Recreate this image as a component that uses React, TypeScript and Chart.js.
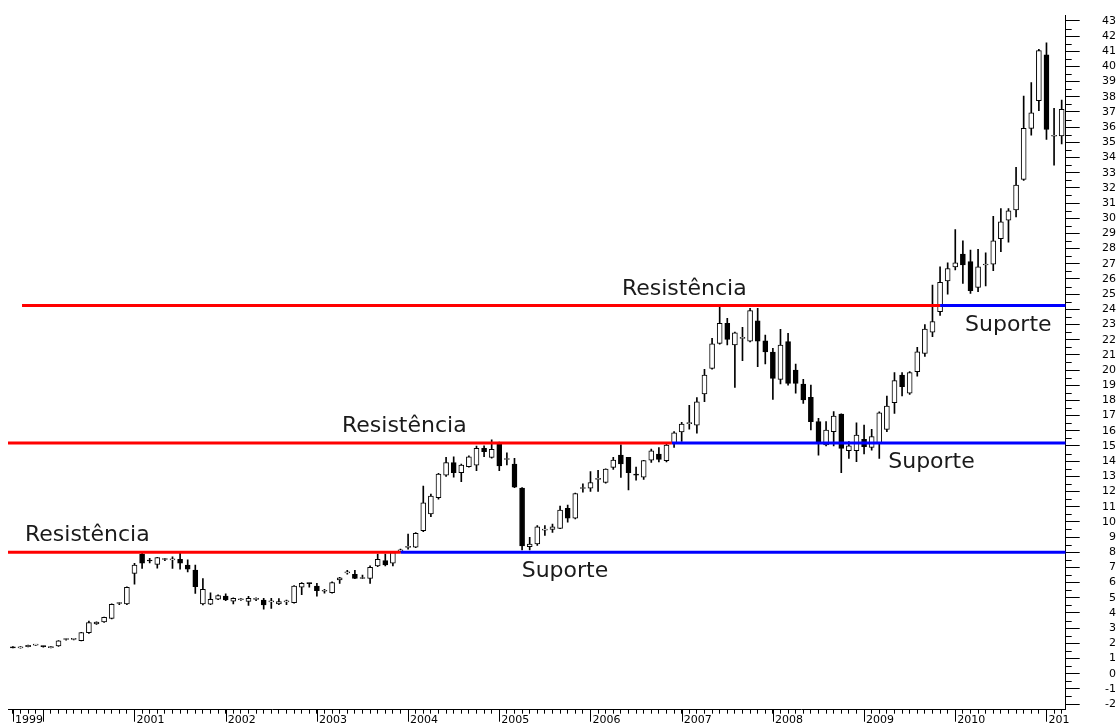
import React, { useEffect, useRef } from "react";
import { Chart, registerables } from "chart.js";

Chart.register(...registerables);

// Monthly candles, index 0 = Sep 1999 ... index 138 = Mar 2011
const opens = [
  1.75, 1.7, 1.78, 1.88, 1.79, 1.71, 1.82, 2.25, 2.26, 2.17, 2.7, 3.27, 3.4, 3.64, 4.62, 4.59,
  6.61, 7.86, 7.44, 7.2, 7.52, 7.5, 7.53, 7.16, 6.83, 4.59, 4.58, 4.9, 5.11, 4.78, 4.87, 4.76,
  4.89, 4.85, 4.73, 4.6, 4.73, 4.67, 5.69, 5.95, 5.77, 5.43, 5.33, 6.17, 6.64, 6.54, 6.27, 6.27,
  7.09, 7.45, 7.27, 8.09, 8.32, 8.33, 9.42, 10.52, 11.6, 13.08, 13.9, 13.24, 13.64, 13.74, 14.84, 14.25,
  15.21, 14.11, 13.81, 12.22, 8.36, 8.54, 9.45, 9.5, 9.57, 10.89, 10.24, 12.2, 12.22, 12.8, 12.59, 13.59,
  14.4, 14.25, 13.09, 12.94, 14.07, 14.47, 14.03, 15.17, 15.93, 16.47, 16.37, 18.42, 20.11, 21.76, 23.08, 21.65,
  22.09, 21.91, 23.25, 21.93, 21.19, 19.39, 21.87, 20.0, 19.08, 18.2, 16.6, 15.06, 15.94, 17.1, 14.69, 14.69,
  15.44, 14.91, 15.22, 16.09, 17.85, 19.67, 18.47, 19.9, 21.1, 22.5, 23.84, 25.88, 26.8, 27.64, 27.14, 25.45,
  26.92, 26.97, 28.66, 29.87, 30.55, 32.56, 35.92, 37.75, 40.76, 35.4, 35.42,
];
const highs = [
  1.78, 1.78, 1.88, 1.91, 1.81, 1.8, 2.18, 2.3, 2.3, 2.72, 3.47, 3.42, 3.72, 4.6, 4.68, 5.72,
  7.27, 7.92, 7.6, 7.66, 7.6, 7.7, 7.92, 7.5, 7.16, 6.27, 5.33, 5.2, 5.25, 5.0, 4.95, 5.1,
  5.0, 4.96, 4.96, 4.95, 4.85, 5.8, 6.0, 5.97, 5.95, 5.55, 6.05, 6.35, 6.8, 6.8, 6.5, 7.1,
  7.88, 7.88, 8.0, 8.2, 9.2, 9.3, 12.36, 11.83, 13.2, 14.25, 14.29, 13.8, 14.35, 14.99, 15.0, 15.4,
  15.25, 14.55, 14.18, 12.25, 8.98, 9.75, 9.75, 9.85, 11.04, 11.1, 11.9, 12.5, 13.31, 13.4, 13.5, 14.25,
  15.07, 14.25, 13.6, 14.05, 14.8, 14.9, 15.1, 15.95, 16.55, 17.68, 18.18, 20.05, 22.09, 24.17, 23.41, 22.5,
  22.81, 24.07, 24.07, 22.31, 21.43, 22.68, 22.42, 20.4, 19.39, 19.01, 16.82, 16.6, 17.26, 17.12, 15.28, 16.53,
  16.38, 16.09, 17.25, 18.29, 19.83, 19.83, 19.9, 21.5, 23.0, 25.6, 26.8, 27.07, 29.26, 28.51, 27.9, 27.95,
  27.73, 30.13, 30.64, 30.64, 33.36, 38.05, 38.93, 41.13, 41.56, 37.24, 37.79,
];
const lows = [
  1.69, 1.68, 1.76, 1.86, 1.74, 1.7, 1.8, 2.2, 2.22, 2.15, 2.65, 3.25, 3.38, 3.6, 4.55, 4.55,
  5.9, 6.93, 7.3, 6.95, 7.45, 6.93, 6.88, 6.7, 5.29, 4.52, 4.55, 4.88, 4.8, 4.6, 4.82, 4.5,
  4.8, 4.24, 4.3, 4.55, 4.55, 4.65, 5.2, 5.7, 5.1, 5.3, 5.3, 5.95, 6.55, 6.25, 6.25, 5.95,
  7.05, 7.1, 7.1, 8.0, 8.2, 8.3, 9.35, 10.34, 11.5, 13.0, 12.94, 12.65, 13.6, 13.37, 14.3, 14.2,
  13.37, 13.75, 12.25, 8.15, 8.15, 8.45, 9.1, 9.3, 9.55, 9.98, 10.2, 11.95, 12.0, 12.0, 12.55, 13.45,
  12.92, 12.11, 12.75, 12.8, 13.92, 13.95, 13.95, 14.9, 15.3, 16.1, 15.85, 17.92, 20.05, 21.7, 21.65, 18.86,
  20.62, 21.85, 20.22, 20.4, 18.07, 19.08, 19.0, 18.47, 17.81, 16.05, 14.4, 15.0, 15.0, 13.24, 14.18, 13.96,
  14.47, 14.73, 14.18, 15.94, 17.15, 18.29, 18.4, 19.6, 20.9, 22.2, 23.6, 25.0, 26.6, 25.7, 25.05, 25.16,
  25.54, 26.55, 27.8, 28.43, 30.09, 32.5, 35.48, 37.09, 35.2, 33.5, 34.89,
];
const closes = [
  1.7, 1.76, 1.86, 1.89, 1.78, 1.72, 2.17, 2.27, 2.27, 2.7, 3.36, 3.4, 3.71, 4.57, 4.64, 5.69,
  7.16, 7.27, 7.42, 7.64, 7.54, 7.52, 7.27, 6.88, 5.73, 5.55, 4.9, 5.15, 4.85, 4.96, 4.89, 4.96,
  4.91, 4.52, 4.75, 4.74, 4.75, 5.77, 5.95, 5.93, 5.46, 5.45, 6.0, 6.32, 6.66, 6.27, 6.29, 7.0,
  7.53, 7.16, 7.97, 8.11, 8.34, 9.24, 11.26, 11.7, 13.15, 13.9, 13.24, 13.74, 14.29, 14.84, 14.62, 14.77,
  13.68, 14.13, 12.28, 8.42, 8.54, 9.68, 9.47, 9.68, 10.78, 10.24, 11.87, 12.22, 12.59, 12.85, 13.47, 14.07,
  13.81, 13.24, 13.08, 14.03, 14.68, 14.12, 15.06, 15.87, 16.44, 16.5, 17.9, 19.67, 21.72, 23.08, 22.02, 22.46,
  22.12, 23.91, 21.91, 21.19, 19.45, 21.65, 19.12, 19.12, 18.03, 16.6, 15.28, 16.05, 16.97, 14.84, 15.0, 15.72,
  14.95, 15.61, 17.19, 17.63, 19.3, 18.9, 19.83, 21.2, 22.7, 23.2, 25.78, 26.69, 27.07, 26.92, 25.23, 26.8,
  26.94, 28.51, 29.76, 30.49, 32.19, 35.92, 36.95, 41.04, 35.86, 35.45, 37.18,
];

// Axis ticks
const yTickValues = [
  -2, -1, 0, 1, 2, 3, 4, 5, 6, 7, 8, 9, 10, 11, 12, 13, 14, 15, 16, 17, 18, 19, 20, 21, 22, 23,
  24, 25, 26, 27, 28, 29, 30, 31, 32, 33, 34, 35, 36, 37, 38, 39, 40, 41, 42, 43,
];
const yearTickIdx = [0, 4, 16, 28, 40, 52, 64, 76, 88, 100, 112, 124, 136];
const yearTickLabels = ["1999", "", "2001", "2002", "2003", "2004", "2005", "2006", "2007", "2008", "2009", "2010", "201"];

// Support / resistance levels (price) and where they start, switch colour, end (month index)
const levelValues = [8.0, 15.2, 24.25];
const levelStarts = [-0.645, -0.645, 1.2];
const levelBreaks = [51.0, 86.7, 122.0];
const levelEnd = 138.53;

// Annotation texts
const noteTexts = ["Resistência", "Resistência", "Resistência", "Suporte", "Suporte", "Suporte"];
const noteLevel = [0, 1, 2, 0, 1, 2];
const noteX = [1.59, 43.3, 80.14, 66.95, 115.18, 125.28];
const noteDy = [-11, -11, -11, 25, 25, 25];

const X_MIN = -0.645;
const Y_MIN = -2.375;
const Y_MAX = 43.39;

const decorPlugin = {
  id: "decor",
  afterDraw(chart: any) {
    const ctx = chart.ctx;
    const xs = chart.scales.x;
    const ys = chart.scales.y;
    const area = chart.chartArea;
    ctx.save();
    ctx.strokeStyle = "#000";
    ctx.lineWidth = 1;
    // minor half-unit ticks on the price axis
    for (let k = 0; k < yTickValues.length - 1; k++) {
      const v = (yTickValues[k] + yTickValues[k + 1]) / 2;
      const py = Math.round(ys.getPixelForValue(v)) + 0.5;
      ctx.beginPath();
      ctx.moveTo(area.right, py);
      ctx.lineTo(area.right + 6, py);
      ctx.stroke();
    }
    // long year ticks on the time axis
    yearTickIdx.forEach((i) => {
      const px = Math.round(xs.getPixelForValue(i)) + 0.5;
      ctx.beginPath();
      ctx.moveTo(px, area.bottom);
      ctx.lineTo(px, area.bottom + 12);
      ctx.stroke();
    });
    // annotations
    ctx.font = '22px "DejaVu Sans"';
    ctx.fillStyle = "#1a1a1a";
    ctx.textAlign = "left";
    ctx.textBaseline = "alphabetic";
    noteTexts.forEach((t, k) => {
      const px = xs.getPixelForValue(noteX[k]);
      const py = ys.getPixelForValue(levelValues[noteLevel[k]]) + noteDy[k];
      ctx.fillText(t, px, py);
    });
    ctx.restore();
  },
};

export default function App() {
  const ref = useRef<HTMLCanvasElement>(null);

  useEffect(() => {
    if (!ref.current) return;
    Chart.defaults.font.family = '"DejaVu Sans", sans-serif';

    const idx = opens.map((_, i) => i);
    const wickData = idx.map((i) => ({ x: i, y: [lows[i], highs[i]] }));
    const bodyData = idx.map((i) => ({ x: i, y: [opens[i], closes[i]] }));
    const bodyColors = idx.map((i) => (closes[i] >= opens[i] ? "#ffffff" : "#000000"));

    const levelSets: any[] = [];
    levelValues.forEach((lv, k) => {
      levelSets.push({
        type: "line",
        data: [
          { x: levelStarts[k], y: lv },
          { x: levelBreaks[k], y: lv },
        ],
        borderColor: "#ff0000",
        borderWidth: 3,
        pointRadius: 0,
        order: 0,
      });
      levelSets.push({
        type: "line",
        data: [
          { x: levelBreaks[k], y: lv },
          { x: levelEnd, y: lv },
        ],
        borderColor: "#0000ff",
        borderWidth: 3,
        pointRadius: 0,
        order: 0,
      });
    });

    const chart = new Chart(ref.current, {
      type: "bar",
      data: {
        datasets: [
          {
            type: "bar",
            data: wickData as any,
            backgroundColor: "#000000",
            borderWidth: 0,
            barThickness: 1,
            grouped: false,
            order: 2,
          },
          {
            type: "bar",
            data: bodyData as any,
            backgroundColor: bodyColors,
            borderColor: "#000000",
            borderWidth: 1,
            borderSkipped: false,
            barThickness: 5,
            minBarLength: 1,
            grouped: false,
            order: 1,
          },
          ...levelSets,
        ],
      },
      plugins: [decorPlugin],
      options: {
        responsive: false,
        animation: false,
        events: [],
        layout: { padding: { top: 15, left: 8, right: 0, bottom: 0 } },
        plugins: { legend: { display: false }, tooltip: { enabled: false } },
        scales: {
          x: {
            type: "linear",
            min: X_MIN,
            max: levelEnd,
            offset: false,
            afterFit: (s: any) => {
              s.height = 17.3;
              s.paddingLeft = 0;
              s.paddingRight = 0;
              s.paddingTop = 0;
              s.paddingBottom = 0;
            },
            afterBuildTicks: (s: any) => {
              s.ticks = idx.map((i) => ({ value: i }));
            },
            grid: {
              drawOnChartArea: false,
              drawTicks: true,
              tickLength: 4,
              color: "#000",
              tickColor: "#000",
              offset: false,
            },
            border: { display: true, color: "#000", width: 1 },
            ticks: {
              autoSkip: false,
              maxRotation: 0,
              minRotation: 0,
              align: "start",
              labelOffset: 2,
              padding: 0,
              color: "#000",
              font: { size: 11, family: '"DejaVu Sans"' },
              callback: (v: any) => {
                const p = yearTickIdx.indexOf(Number(v));
                return p >= 0 ? yearTickLabels[p] : "";
              },
            },
          },
          y: {
            type: "linear",
            position: "right",
            min: Y_MIN,
            max: Y_MAX,
            afterFit: (s: any) => {
              s.width = 50.3;
              s.paddingTop = 0;
              s.paddingBottom = 0;
              s.paddingLeft = 0;
              s.paddingRight = 0;
            },
            afterBuildTicks: (s: any) => {
              s.ticks = yTickValues.map((v) => ({ value: v }));
            },
            grid: {
              drawOnChartArea: false,
              drawTicks: true,
              tickLength: 14,
              color: "#000",
              tickColor: "#000",
            },
            border: { display: true, color: "#000", width: 1 },
            ticks: {
              autoSkip: false,
              crossAlign: "far",
              padding: 18,
              color: "#000",
              font: { size: 11, family: '"DejaVu Sans"' },
              callback: (v: any) => String(v),
            },
          },
        },
      } as any,
    });
    return () => chart.destroy();
  }, []);

  return (
    <div style={{ position: "absolute", left: 0, top: 0, width: 1116, height: 727, background: "#fff" }}>
      <canvas ref={ref} width={1116} height={727} style={{ display: "block" }} />
    </div>
  );
}
